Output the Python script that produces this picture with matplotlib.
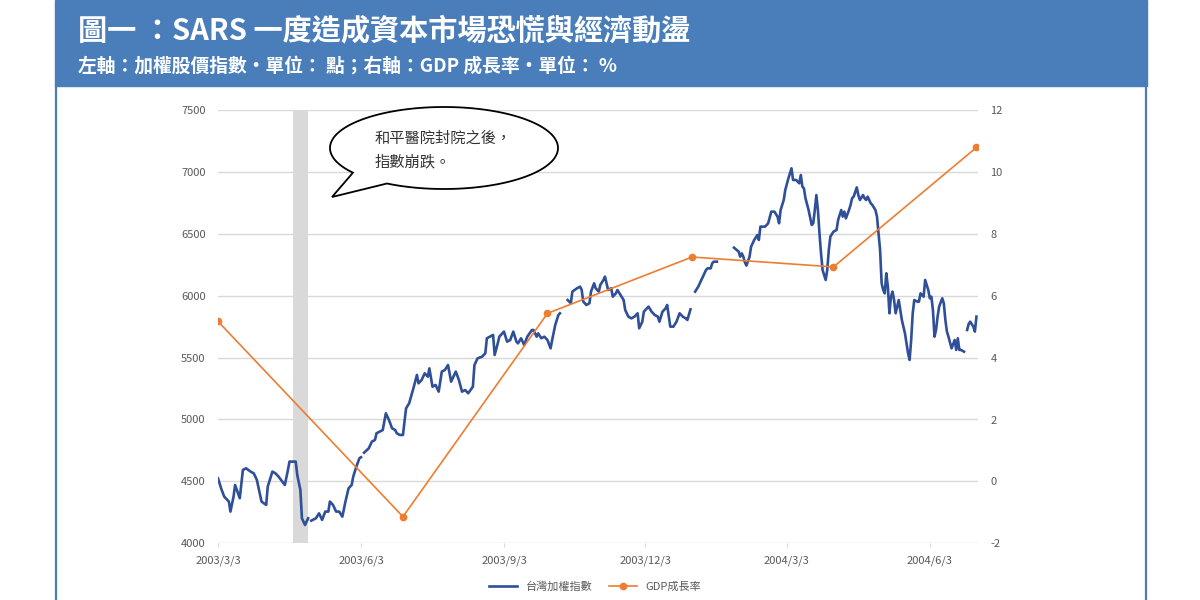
import matplotlib
matplotlib.use('Agg')
import matplotlib.pyplot as plt
import matplotlib.dates as mdates
from matplotlib.patches import Rectangle, PathPatch
from matplotlib.path import Path
from matplotlib.lines import Line2D
import numpy as np
import pandas as pd

plt.rcParams['font.family'] = ['Noto Sans CJK TC', 'DejaVu Sans']
plt.rcParams['axes.unicode_minus'] = False

# 台灣加權指數 (None = no data, drawn as a gap)
idx_dates = [
    '2003-03-03', '2003-03-05', '2003-03-07', '2003-03-10', '2003-03-11', '2003-03-13', '2003-03-14',
    '2003-03-17', '2003-03-19', '2003-03-21', '2003-03-24', '2003-03-26', '2003-03-28', '2003-03-31',
    '2003-04-03', '2003-04-04', '2003-04-07', '2003-04-09', '2003-04-11', '2003-04-15', '2003-04-17',
    '2003-04-18', '2003-04-22', '2003-04-23', '2003-04-25', '2003-04-26', '2003-04-28', '2003-04-30',
    '2003-05-01',
    '2003-05-02', '2003-05-05', '2003-05-07', '2003-05-09', '2003-05-11', '2003-05-13', '2003-05-14',
    '2003-05-16', '2003-05-18', '2003-05-20', '2003-05-22', '2003-05-24', '2003-05-26', '2003-05-28',
    '2003-05-29', '2003-05-31', '2003-06-02', '2003-06-03',
    '2003-06-04',
    '2003-06-05', '2003-06-08', '2003-06-10', '2003-06-12', '2003-06-13', '2003-06-15', '2003-06-17',
    '2003-06-19', '2003-06-21', '2003-06-23', '2003-06-25', '2003-06-26', '2003-06-28', '2003-06-30',
    '2003-07-02', '2003-07-04', '2003-07-07', '2003-07-09', '2003-07-10', '2003-07-12', '2003-07-14',
    '2003-07-16', '2003-07-17', '2003-07-19', '2003-07-21', '2003-07-23', '2003-07-25', '2003-07-27',
    '2003-07-29', '2003-07-31', '2003-08-01', '2003-08-03', '2003-08-05', '2003-08-07', '2003-08-09',
    '2003-08-11', '2003-08-14', '2003-08-15', '2003-08-17', '2003-08-20', '2003-08-22', '2003-08-23',
    '2003-08-25', '2003-08-27', '2003-08-28', '2003-08-30', '2003-08-31', '2003-09-02', '2003-09-03',
    '2003-09-05', '2003-09-07', '2003-09-09', '2003-09-11', '2003-09-12', '2003-09-14', '2003-09-16',
    '2003-09-18', '2003-09-21', '2003-09-22', '2003-09-24', '2003-09-25', '2003-09-27', '2003-09-29',
    '2003-10-01', '2003-10-03', '2003-10-04', '2003-10-06', '2003-10-08', '2003-10-09',
    '2003-10-10',
    '2003-10-14', '2003-10-16', '2003-10-17', '2003-10-20', '2003-10-22', '2003-10-23', '2003-10-24',
    '2003-10-26', '2003-10-28', '2003-10-29', '2003-10-31', '2003-11-01', '2003-11-03', '2003-11-04',
    '2003-11-06', '2003-11-07', '2003-11-09', '2003-11-11', '2003-11-12', '2003-11-14', '2003-11-15',
    '2003-11-17', '2003-11-19', '2003-11-20', '2003-11-22', '2003-11-24', '2003-11-26', '2003-11-28',
    '2003-11-29', '2003-12-01', '2003-12-02', '2003-12-05', '2003-12-07', '2003-12-09', '2003-12-11',
    '2003-12-12', '2003-12-14', '2003-12-16', '2003-12-17', '2003-12-19', '2003-12-21', '2003-12-23',
    '2003-12-25', '2003-12-27', '2003-12-29', '2003-12-30', '2004-01-01',
    '2004-01-02',
    '2004-01-04', '2004-01-06', '2004-01-08', '2004-01-09', '2004-01-11', '2004-01-12', '2004-01-14',
    '2004-01-15', '2004-01-16', '2004-01-18',
    '2004-01-22',
    '2004-01-29', '2004-01-30', '2004-02-01', '2004-02-02', '2004-02-03', '2004-02-04', '2004-02-05',
    '2004-02-06', '2004-02-08', '2004-02-09', '2004-02-11', '2004-02-13', '2004-02-14', '2004-02-15',
    '2004-02-18', '2004-02-20', '2004-02-22', '2004-02-24', '2004-02-26', '2004-02-27', '2004-02-28',
    '2004-03-01', '2004-03-02', '2004-03-04', '2004-03-05', '2004-03-06', '2004-03-07', '2004-03-09',
    '2004-03-11', '2004-03-12', '2004-03-13', '2004-03-14', '2004-03-15', '2004-03-17', '2004-03-19',
    '2004-03-20', '2004-03-21', '2004-03-22', '2004-03-23', '2004-03-24', '2004-03-25', '2004-03-26',
    '2004-03-27', '2004-03-28', '2004-03-29', '2004-03-30', '2004-03-31', '2004-04-02', '2004-04-04',
    '2004-04-05', '2004-04-07', '2004-04-08', '2004-04-09', '2004-04-10', '2004-04-12', '2004-04-13',
    '2004-04-14', '2004-04-15', '2004-04-17', '2004-04-18', '2004-04-19', '2004-04-21', '2004-04-22',
    '2004-04-23', '2004-04-24', '2004-04-26', '2004-04-27', '2004-04-29', '2004-04-30', '2004-05-01',
    '2004-05-02', '2004-05-03', '2004-05-04', '2004-05-05', '2004-05-06', '2004-05-07', '2004-05-08',
    '2004-05-09', '2004-05-10', '2004-05-11', '2004-05-12', '2004-05-13', '2004-05-14', '2004-05-15',
    '2004-05-16', '2004-05-18', '2004-05-19', '2004-05-20', '2004-05-21', '2004-05-22', '2004-05-23',
    '2004-05-24', '2004-05-26', '2004-05-27', '2004-05-28', '2004-05-30', '2004-05-31', '2004-06-02',
    '2004-06-03', '2004-06-04', '2004-06-05', '2004-06-06', '2004-06-07', '2004-06-08', '2004-06-09',
    '2004-06-11', '2004-06-12', '2004-06-13', '2004-06-14', '2004-06-15', '2004-06-17', '2004-06-19',
    '2004-06-20', '2004-06-21', '2004-06-22', '2004-06-23', '2004-06-25',
    '2004-06-26',
    '2004-06-27', '2004-06-28', '2004-06-29', '2004-07-01', '2004-07-02', '2004-07-03',
]
idx_values = [
    4525, 4444, 4377, 4337, 4256, 4377, 4471,
    4364, 4592, 4606, 4579, 4565, 4512, 4337,
    4310, 4458, 4579, 4565, 4538, 4471, 4592,
    4660, 4660, 4552, 4431, 4202, 4148, 4202,
    None,
    4183, 4202, 4242, 4189, 4256, 4256, 4337,
    4310, 4256, 4256, 4215, 4337, 4444, 4471,
    4538, 4619, 4687, 4695,
    None,
    4732, 4767, 4821, 4835, 4889, 4902, 4915,
    5050, 4996, 4929, 4915, 4889, 4875, 4875,
    5090, 5131, 5265, 5360, 5292, 5319, 5373,
    5346, 5413, 5265, 5279, 5225, 5387, 5400,
    5440, 5306, 5333, 5387, 5319, 5225, 5238,
    5212, 5265, 5440, 5494, 5508, 5535, 5656,
    5669, 5683, 5521, 5615, 5669, 5696, 5710,
    5629, 5642, 5710, 5629, 5615, 5656, 5602,
    5669, 5723, 5723, 5669, 5696, 5656, 5669,
    5642, 5575, 5642, 5764, 5844, 5858,
    None,
    5965, 5939, 6033, 6060, 6073, 6046, 5953,
    5925, 5939, 6033, 6100, 6060, 6033, 6087,
    6127, 6154, 6046, 6060, 5992, 6019, 6046,
    6006, 5965, 5885, 5831, 5817, 5831, 5858,
    5737, 5790, 5871, 5912, 5871, 5844, 5831,
    5790, 5871, 5898, 5925, 5750, 5750, 5790,
    5858, 5831, 5817, 5804, 5890,
    None,
    6033, 6073, 6127, 6154, 6208, 6221, 6221,
    6262, 6275, 6275,
    None,
    6388, 6377, 6356, 6315, 6342, 6315, 6270,
    6243, 6315, 6396, 6450, 6490, 6450, 6558,
    6558, 6585, 6679, 6679, 6639, 6585, 6692,
    6773, 6854, 6948, 6988, 7029, 6935, 6935,
    6908, 6975, 6881, 6867, 6787, 6692, 6571,
    6585, 6692, 6813, 6692, 6504, 6342, 6208,
    6167, 6127, 6208, 6369, 6477, 6517, 6531,
    6612, 6692, 6639, 6679, 6625, 6692, 6733,
    6787, 6800, 6875, 6813, 6773, 6813, 6787,
    6773, 6800, 6746, 6733, 6692, 6639, 6504,
    6369, 6100, 6046, 6019, 6181, 6073, 5858,
    5992, 6033, 5965, 5858, 5912, 5965, 5885,
    5804, 5696, 5615, 5535, 5481, 5642, 5858,
    5965, 5952, 5952, 6019, 5992, 6127, 6046,
    5979, 5992, 5885, 5669, 5723, 5831, 5912,
    5979, 5939, 5804, 5710, 5669, 5575, 5642,
    5562, 5656, 5562, 5562, 5548,
    None,
    5723, 5772, 5790, 5750, 5710, 5831,
]

# GDP 成長率 (%)
gdp_dates = ['2003-03-03', '2003-06-30', '2003-10-01', '2004-01-02', '2004-04-02', '2004-07-03']
gdp_values = [5.17, -1.14, 5.43, 7.25, 6.93, 10.79]

left_ticks = [4000, 4500, 5000, 5500, 6000, 6500, 7000, 7500]
right_ticks = [-2, 0, 2, 4, 6, 8, 10, 12]
x_ticks = ['2003-03-03', '2003-06-03', '2003-09-03', '2003-12-03', '2004-03-03', '2004-06-03']
band_start, band_end = '2003-04-20', '2003-04-30'

blue_hdr = '#4a7ebb'
grid_c = '#d9d9d9'
txt_c = '#595959'

fig = plt.figure(figsize=(12, 6), dpi=100)

# header + frame
fig.patches.append(Rectangle((55 / 1200, 1 - 86 / 600), 1092 / 1200, 86 / 600,
                             transform=fig.transFigure, color=blue_hdr, zorder=0))
for xp in [56, 1146]:
    fig.lines.append(Line2D([xp / 1200, xp / 1200], [0, 1 - 86 / 600], transform=fig.transFigure,
                            color=blue_hdr, lw=1.6))
fig.text(78 / 1200, 1 - 30 / 600, '圖一 ：SARS 一度造成資本市場恐慌與經濟動盪', color='white',
         fontsize=21, fontweight='bold', va='center', ha='left')
fig.text(78 / 1200, 1 - 66 / 600, '左軸：加權股價指數‧單位： 點；右軸：GDP 成長率‧單位： %', color='white',
         fontsize=13.5, fontweight='bold', va='center', ha='left')

ax = fig.add_axes([218 / 1200, 1 - 543.3 / 600, 760 / 1200, 433.3 / 600])
ax2 = ax.twinx()

d_idx = pd.to_datetime(idx_dates)
v_idx = np.array([np.nan if v is None else v for v in idx_values], dtype=float)
d_gdp = pd.to_datetime(gdp_dates)

ax.axvspan(pd.Timestamp(band_start), pd.Timestamp(band_end), color=grid_c, lw=0, zorder=0)
ax.plot(d_idx, v_idx, color='#2f4f98', lw=1.9, solid_joinstyle='round', zorder=3)
ax2.plot(d_gdp, gdp_values, color='#ed7d31', lw=1.2, marker='o', ms=4.5, zorder=3)

ax.set_xlim(pd.Timestamp('2003-03-03'), pd.Timestamp('2004-07-04'))
ax.set_ylim(4000, 7500)
ax2.set_ylim(-2, 12)
ax.set_yticks(left_ticks)
ax2.set_yticks(right_ticks)
ax.set_xticks(pd.to_datetime(x_ticks))
ax.xaxis.set_major_formatter(plt.FuncFormatter(
    lambda v, p: '{0.year}/{0.month}/{0.day}'.format(mdates.num2date(v))))

ax.set_axisbelow(True)
ax.grid(axis='y', color=grid_c, lw=1)
ax.grid(axis='x', visible=False)
ax2.grid(False)
for a in (ax, ax2):
    for s in a.spines.values():
        s.set_visible(False)
ax.tick_params(axis='y', length=0, pad=9, labelsize=8, labelcolor=txt_c)
ax2.tick_params(axis='y', length=0, pad=9, labelsize=8, labelcolor=txt_c)
ax.tick_params(axis='x', length=3, color=grid_c, pad=6, labelsize=8, labelcolor=txt_c)

# speech bubble
cx, cy, a, b = 444, 148, 114, 41
t = np.radians(np.linspace(143, 480, 200))
px = list(cx + a * np.cos(t)) + [332]
py = list(cy + b * np.sin(t)) + [197]
verts = [(x / 1200, 1 - y / 600) for x, y in zip(px, py)]
verts.append(verts[0])
codes = [Path.MOVETO] + [Path.LINETO] * (len(verts) - 2) + [Path.CLOSEPOLY]
fig.patches.append(PathPatch(Path(verts, codes), transform=fig.transFigure,
                             facecolor='white', edgecolor='black', lw=1.3, zorder=5))
fig.text(375 / 1200, 1 - 138 / 600, '和平醫院封院之後，', fontsize=11, color='#333333',
         va='center', ha='left', zorder=6)
fig.text(375 / 1200, 1 - 162 / 600, '指數崩跌。', fontsize=11, color='#333333',
         va='center', ha='left', zorder=6)

handles = [Line2D([], [], color='#2f4f98', lw=1.9),
           Line2D([], [], color='#ed7d31', lw=1.2, marker='o', ms=4.5)]
fig.legend(handles, ['台灣加權指數', 'GDP成長率'], loc='center', bbox_to_anchor=(0.496, 0.022),
           ncol=2, frameon=False, fontsize=8, labelcolor=txt_c, handlelength=2.5, columnspacing=1.5)

fig.savefig('out.png', dpi=100)
